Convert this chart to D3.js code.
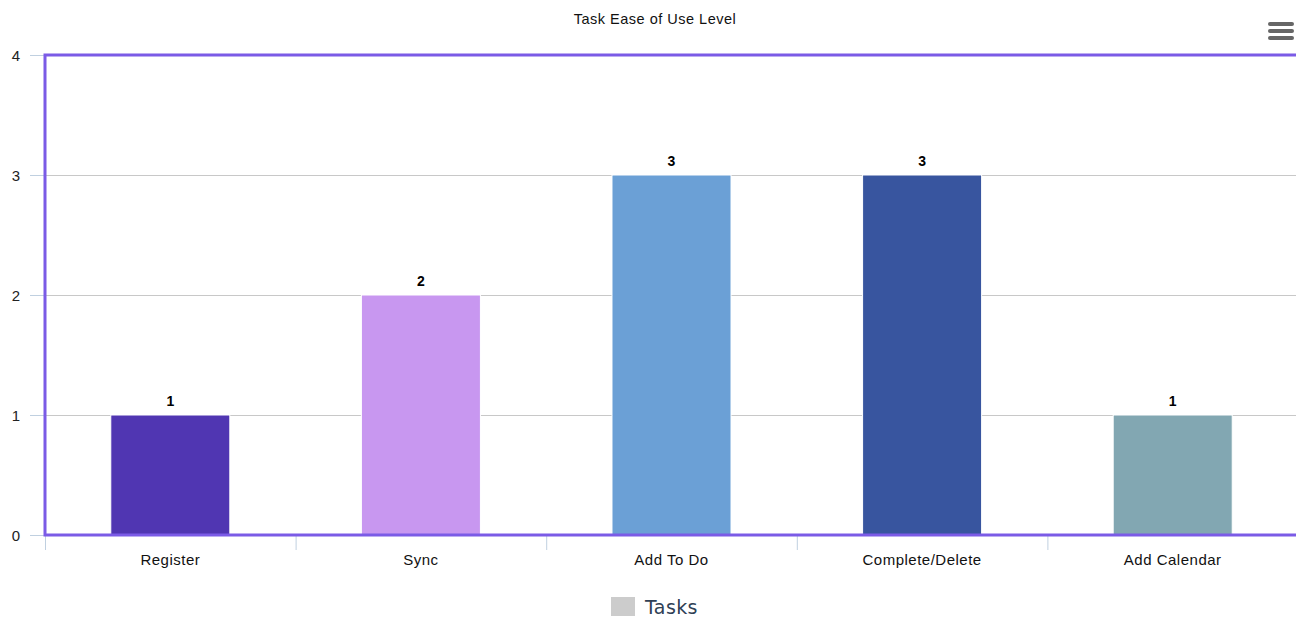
<!DOCTYPE html>
<html><head><meta charset="utf-8">
<script src="https://cdn.jsdelivr.net/npm/d3@7"></script>
<style>body{margin:0;background:#fff}svg{display:block}</style>
</head><body>
<svg id="c" width="1296" height="617"></svg>
<script>
const categories = ["Register", "Sync", "Add To Do", "Complete/Delete", "Add Calendar"];
const values = [1, 2, 3, 3, 1];
const colors = ["#5036b2", "#c897f0", "#6ba0d6", "#38559f", "#82a7b2"];
const yTicks = [0, 1, 2, 3, 4];
const title = "Task Ease of Use Level";
const seriesName = "Tasks";

const svg = d3.select("#c");
const m = {left: 45, top: 55, width: 1253, height: 480};
const x = d3.scaleBand().domain(categories).range([m.left, m.left + m.width]).paddingInner(0).paddingOuter(0);
const y = d3.scaleLinear().domain([0, 4]).range([m.top + m.height, m.top]);
const font = "'Liberation Sans', Arial, sans-serif";

// title
svg.append("text").attr("x", 655).attr("y", 24).attr("text-anchor", "middle")
  .attr("font-family", font).attr("font-size", 14.5).attr("letter-spacing", 0.5).attr("fill", "#111").text(title);

// gridlines
svg.append("g").selectAll("line").data(yTicks.filter(d => d > 0 && d < 4)).join("line")
  .attr("x1", m.left).attr("x2", m.left + m.width)
  .attr("y1", d => y(d) + 0.5).attr("y2", d => y(d) + 0.5)
  .attr("stroke", "#c8c8c8").attr("stroke-width", 1);

// y axis
const ya = svg.append("g").attr("transform", `translate(${m.left},0)`)
  .call(d3.axisLeft(y).tickValues(yTicks).tickSize(15).tickPadding(10).tickFormat(d3.format("d")));
ya.select(".domain").remove();
ya.selectAll(".tick line").attr("stroke", "#c0d0e0");
ya.selectAll(".tick text").attr("font-family", font).attr("font-size", 15).attr("fill", "#222").attr("dy", "0.38em");

// x axis
const xa = svg.append("g").attr("transform", `translate(0,${m.top + m.height})`)
  .call(d3.axisBottom(x).tickSize(0).tickPadding(19));
xa.select(".domain").remove();
xa.selectAll(".tick text").attr("font-family", font).attr("font-size", 15).attr("letter-spacing", 0.5).attr("fill", "#111");
svg.append("g").selectAll("line").data(categories).join("line")
  .attr("x1", d => x(d) + 0.5).attr("x2", d => x(d) + 0.5)
  .attr("y1", m.top + m.height).attr("y2", m.top + m.height + 15)
  .attr("stroke", "#c0d0e0");

// bars
const bw = x.bandwidth() * 0.475;
svg.append("g").selectAll("rect").data(values).join("rect")
  .attr("x", (d, i) => x(categories[i]) + (x.bandwidth() - bw) / 2)
  .attr("y", d => y(d))
  .attr("width", bw)
  .attr("height", d => y(0) - y(d))
  .attr("fill", (d, i) => colors[i])
  .attr("stroke", "#fff").attr("stroke-width", 1);

// data labels
svg.append("g").selectAll("text").data(values).join("text")
  .attr("x", (d, i) => x(categories[i]) + x.bandwidth() / 2)
  .attr("y", d => y(d) - 9)
  .attr("text-anchor", "middle")
  .attr("font-family", font).attr("font-size", 14).attr("font-weight", "bold").attr("fill", "#000")
  .text(d => d);

// plot border
svg.append("rect").attr("x", m.left).attr("y", m.top).attr("width", m.width).attr("height", m.height)
  .attr("fill", "none").attr("stroke", "#7b5be6").attr("stroke-width", 3);

// legend
svg.append("rect").attr("x", 611).attr("y", 597).attr("width", 24).attr("height", 19).attr("fill", "#cccccc");
svg.append("text").attr("x", 645).attr("y", 614).attr("font-family", "'DejaVu Sans', sans-serif")
  .attr("font-size", 19).attr("letter-spacing", 0.4).attr("fill", "#2f4055").text(seriesName);

// menu icon
svg.append("g").selectAll("line").data([0, 1, 2]).join("line")
  .attr("x1", 1270).attr("x2", 1292)
  .attr("y1", d => 24 + d * 7).attr("y2", d => 24 + d * 7)
  .attr("stroke", "#666").attr("stroke-width", 4).attr("stroke-linecap", "round");
</script>
</body></html>
